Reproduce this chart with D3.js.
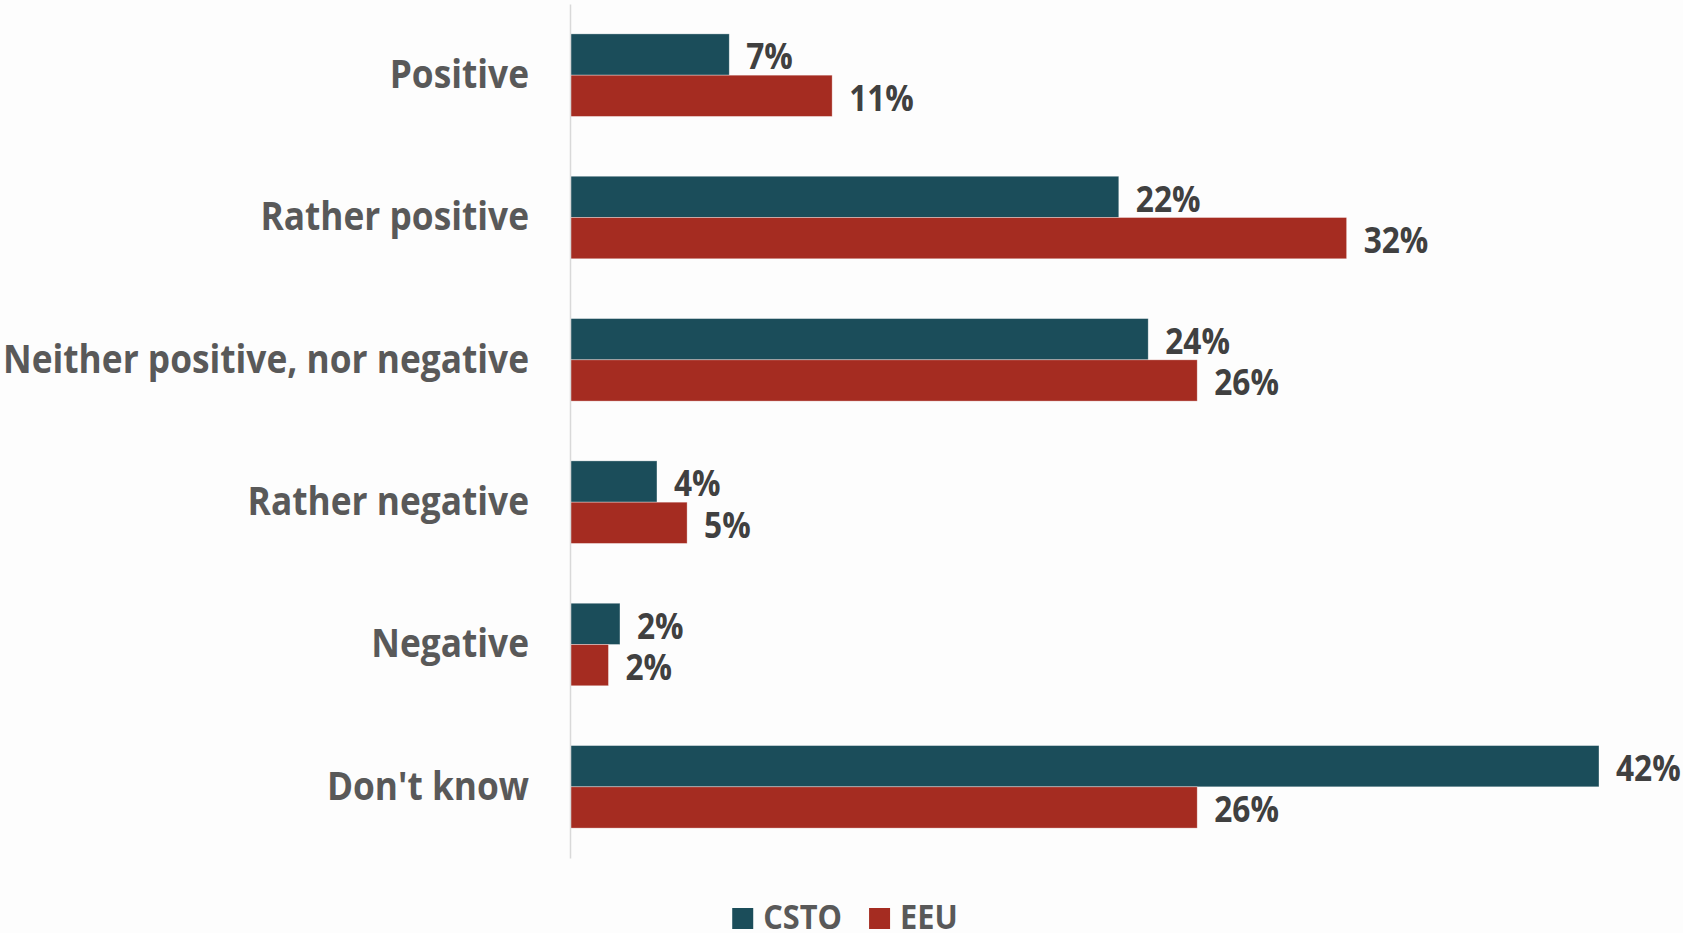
<!DOCTYPE html>
<html>
<head>
<meta charset="utf-8">
<script src="https://cdn.jsdelivr.net/npm/d3@7"></script>
<style>
  html, body { margin: 0; padding: 0; background: #fdfdfd; }
  svg { display: block; }
  text { font-family: "Open Sans", sans-serif; font-weight: 700; }
</style>
</head>
<body>
<svg id="chart" width="1683" height="933"></svg>
<script>
const categories = ["Positive", "Rather positive", "Neither positive, nor negative", "Rather negative", "Negative", "Don't know"];
const seriesNames = ["CSTO", "EEU"];
const cstoValues = [6.5, 22.4, 23.6, 3.55, 2.04, 42.0];
const eeuValues = [10.7, 31.7, 25.6, 4.78, 1.57, 25.6];
const seriesColors = ["#1b4d5a", "#a52c21"];

const svg = d3.select("#chart");
const W = 1683, H = 933;
svg.append("rect").attr("width", W).attr("height", H).attr("fill", "#fdfdfd");

const x = d3.scaleLinear().domain([0, 42]).range([570, 1599]);
const y = d3.scaleBand().domain(categories).range([4, 858]).paddingInner(0.42).paddingOuter(0.21);
const sub = d3.scaleBand().domain(seriesNames).range([0, y.bandwidth()]);

const rows = categories.map((c, i) => ({ c, vals: [cstoValues[i], eeuValues[i]] }));

// compression factor to mimic a narrow font
const probe = svg.append("text").attr("font-size", 39).text("Neither positive, nor negative");
const ratio = 526 / probe.node().getComputedTextLength();
probe.remove();
function squeeze(sel) {
  sel.each(function() {
    const w = this.getComputedTextLength();
    d3.select(this).attr("textLength", w * ratio).attr("lengthAdjust", "spacingAndGlyphs");
  });
}

// bars
const g = svg.append("g");
rows.forEach(r => {
  seriesNames.forEach((s, j) => {
    const v = r.vals[j];
    const top = y(r.c) + sub(s);
    g.append("rect")
      .attr("x", x(0)).attr("y", top)
      .attr("width", x(v) - x(0)).attr("height", sub.bandwidth())
      .attr("fill", seriesColors[j])
      .attr("stroke", "#ffffff").attr("stroke-opacity", 0.5).attr("stroke-width", 0.7);
    g.append("text")
      .attr("x", x(v) + 17)
      .attr("y", top + sub.bandwidth() / 2)
      .attr("dy", "0.42em")
      .attr("font-size", 35)
      .attr("fill", "#404040")
      .text(Math.round(v) + "%")
      .call(squeeze);
  });
});

// axis line (category axis)
const yAxis = d3.axisLeft(y).tickSize(0).tickPadding(41);
const ax = svg.append("g").attr("transform", `translate(${x(0)},0)`).call(yAxis);
ax.select(".domain").attr("stroke", "#d9d9d9").attr("stroke-width", 1.5);
ax.selectAll(".tick text")
  .attr("font-family", "'Open Sans', sans-serif")
  .attr("font-weight", 700)
  .attr("font-size", 39)
  .attr("fill", "#595959")
  .attr("dy", "0.33em")
  .call(squeeze);

// legend
const legend = svg.append("g");
let lx = 0;
seriesNames.forEach((s, j) => {
  legend.append("rect").attr("x", lx).attr("y", 908).attr("width", 21).attr("height", 21).attr("fill", seriesColors[j]);
  const t = legend.append("text").attr("x", lx + 31).attr("y", 929)
    .attr("font-size", 34).attr("fill", "#595959").text(s).call(squeeze);
  lx += 31 + t.node().getComputedTextLength() * 1 + 27;
});
const lb = legend.node().getBBox();
legend.attr("transform", `translate(${845 - (lb.x + lb.width / 2)},0)`);
</script>
</body>
</html>
